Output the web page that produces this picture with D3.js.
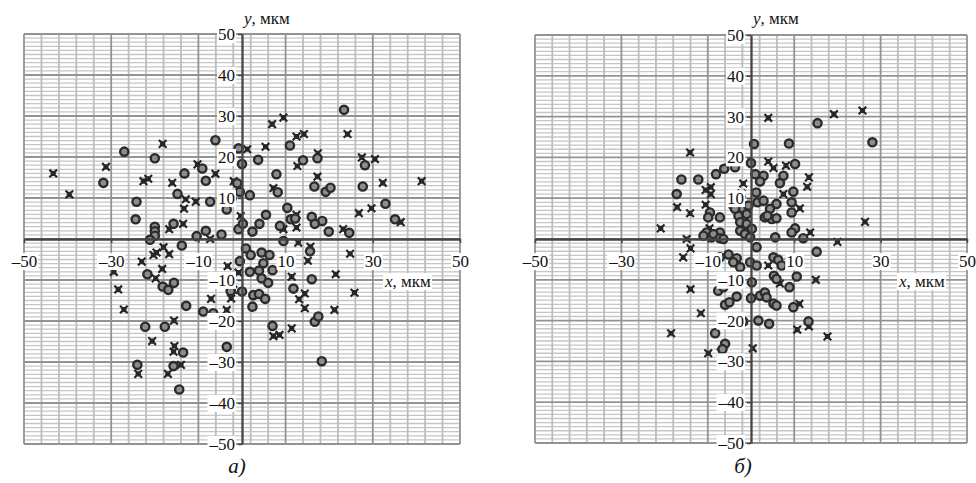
<!DOCTYPE html>
<html>
<head>
<meta charset="utf-8">
<script src="https://cdn.jsdelivr.net/npm/d3@7"></script>
<style>body{margin:0;background:#fff} text{font-family:'Liberation Serif','Times New Roman',serif}</style>
</head>
<body>
<svg id="chart" width="976" height="483"></svg>
<script>
// точки, панель а)
const aCircles = [
  [-27.0,21.3],[-31.8,13.7],[-24.2,9.1],[-24.4,4.8],[-20.0,19.7],[-13.2,16.0],[-14.8,11.0],[-9.1,17.2],
  [-8.3,14.2],[-6.1,24.1],[-7.3,9.1],[-4.5,9.3],[-3.5,7.2],[-2.4,9.9],[-0.8,22.1],[0,18.3],[-1.1,13.6],
  [-0.5,11.5],[1.8,10.7],[-20,3.0],[-20,1.9],[-20,0.8],[-21.1,-0.2],[-15.7,3.7],[-10.4,0.7],[-8.3,2.0],
  [-4.7,1.1],[-0.8,2.4],[0.2,3.7],
  [23.4,31.5],[11.0,22.8],[3.7,19.3],[14.0,19.2],[17.3,19.7],[28.2,18.0],[7.9,15.8],[8.2,11.4],[16.6,12.8],
  [19.2,11.5],[20.3,12.5],[27.7,12.8],[32.9,8.6],[35.1,4.8],[10.4,7.6],[5.5,5.9],[4.0,3.7],[2.4,1.8],
  [8.7,3.2],[11.2,4.8],[12.2,5.0],[16.0,5.4],[18.4,4.4],[16.7,3.7],[19.9,1.8],[24.6,1.5],[9.5,-0.5],
  [-21.7,-8.6],[-18.2,-11.6],[-16.9,-12.4],[-15.6,-10.7],[-13.8,-1.6],[-12.8,-16.3],[-8.9,-17.7],[-6.6,-18.1],
  [-22.2,-21.4],[-17.7,-21.4],[-13.5,-27.7],[-24.0,-30.7],[-15.7,-31.0],[-14.4,-36.7],[-3.5,-26.3],
  [-0.5,-5.4],[0,-12.8],[-2.6,-12.7],[2.4,-16.5],[0.9,-2.3],
  [16.0,-9.8],[11.8,-12.1],[15.6,-3.0],[16.7,-20.2],[17.5,-18.9],[18.3,-29.8],[7.0,-21.2],[7.0,-7.6],
  [2.0,-3.9],[4.5,-3.3],[6.3,-3.9],[4.9,-5.9],[3.9,-7.7],[1.8,-8.0],[4.5,-9.6],[6.0,-10.7],[2.6,-13.7],
  [3.9,-13.4],[5.3,-14.6]
];
const aCrosses = [
  [-43.3,16.0],[-39.6,10.9],[-31.2,17.6],[-18.2,23.2],[-22.6,14.1],[-21.5,14.7],[-16.0,13.7],[-12.9,9.7],
  [-13.3,7.4],[-13.5,3.7],[-10.6,9.1],[-10.2,18.2],[-6.1,15.9],[-16.7,2.4],[-7.3,0],[-1.9,14.1],[1.2,21.9],
  [-0.3,5.6],
  [6.9,28.0],[9.5,29.6],[12.5,25.0],[14.2,25.6],[5.4,22.5],[12.7,17.8],[17.4,20.9],[17.3,15.2],[24.2,25.6],
  [27.5,19.9],[30.5,19.5],[32.3,13.7],[41.2,14.1],[29.7,7.5],[26.8,6.3],[36.4,4.1],[7.2,12.4],[12.5,5.9],
  [12.5,2.8],[9.5,2.4],[23.2,2.4],[12.9,-0.9],[15.7,-1.9],[24.8,-3.6],
  [-29.4,-8.0],[-28.4,-12.3],[-27.1,-17.2],[-23.0,-5.5],[-20.3,-3.9],[-19.6,-3.3],[-18.0,-2.0],[-16.7,-3.7],
  [-18.3,-7.3],[-19.8,-9.6],[-15.6,-19.9],[-20.6,-24.9],[-15.5,-26.1],[-15.7,-27.5],[-14.0,-30.7],
  [-17.0,-32.9],[-23.8,-32.9],[-3.3,-6.6],[-7.1,-14.6],[-2.5,-14.5],[-3.5,-17.3],[-0.8,-8.2],[-2.0,-12.4],
  [11.4,-9.2],[15.1,-5.3],[21.5,-8.6],[25.8,-13.1],[14.4,-13.3],[13.1,-14.7],[14.4,-16.9],[21.2,-17.3],
  [11.4,-21.8],[7.2,-23.7],[8.6,-23.4]
];

// точки, панель б)
const bCircles = [
  [-16.1,14.6],[-17.2,11.0],[-12.2,14.6],[-8.1,15.9],[-6.2,17.2],[-3.7,17.6],[-7.2,5.3],[-9.5,6.5],
  [-9.9,5.3],[-10.3,1.6],[-9.1,0.4],[-7.2,1.6],[-4.1,8.2],[-2.9,5.7],[-2.5,4.1],[-2.5,2.0],[-8.7,1.2],
  [-7.2,0.2],[-4.1,9.4],[-2.9,8.6],[-3.7,7.4],[-1.0,3.7],[0.2,2.5],[-1.4,1.2],[-1.8,7.4],[-1.0,6.1],
  [-0.6,8.2],[-6.4,0],[-0.2,0.4],[-11.0,0.8],
  [0.7,23.3],[0,18.6],[8.8,23.4],[15.4,28.4],[28.1,23.7],[10.2,18.4],[1.0,15.9],[2.9,15.5],[2.1,14.1],
  [7.5,15.5],[6.7,13.7],[9.8,11.6],[9.4,9.0],[9.4,6.5],[5.9,8.6],[3.2,5.3],[4.8,4.9],[5.9,5.1],[10.2,2.6],
  [9.4,1.6],[12.1,0.2],[5.6,0.4],[1.2,11.4],[1.5,9.0],[2.9,9.4],[4.4,7.4],[3.8,5.7],
  [-7.2,-4.5],[-5.2,-3.8],[-3.3,-4.7],[-4.1,-5.7],[-2.5,-6.9],[-0.2,-5.7],[1.3,-6.5],[0.2,-10.6],[5.2,-4.5],
  [6.3,-5.1],[7.1,-6.5],[5.3,-9.0],[5.9,-9.8],[10.6,-9.2],[8.9,-11.8],[-7.6,-12.7],[-6.4,-11.8],
  [-3.3,-14.1],[-6.0,-16.1],[-5.0,-15.5],[0,-14.5],[2.1,-13.9],[3.2,-13.1],[3.6,-14.3],[5.2,-15.8],
  [5.9,-16.3],[9.8,-16.7],[-1.8,-20.2],[1.7,-20.0],[4.2,-20.8],[-8.3,-23.1],[-6.0,-25.7],[-6.6,-27.0],
  [13.3,-20.2],[9.0,-4.9],[15.2,-3.1],[1.3,-2.0]
];
const bCrosses = [
  [-14.1,21.2],[-17.1,7.8],[-14.1,6.3],[-20.9,2.6],[-14.9,0],[-14.0,-2.3],[-10.5,12.0],[-9.3,11.0],
  [-9.3,12.7],[-10.5,8.4],[-9.6,2.6],[4.0,29.7],[19.2,30.6],[25.8,31.5],[26.4,4.2],[20.0,-0.7],[4.0,19.0],
  [5.2,17.4],[8.1,18.0],[13.4,15.1],[13.0,12.8],[11.3,7.5],[13.7,1.6],[-1.8,13.6],[-2.2,11.2],[7.5,11.0],
  [-15.7,-4.5],[-14.0,-12.3],[-11.6,-18.2],[-18.5,-23.1],[-9.9,-28.0],[-7.0,-27.8],[0.4,-26.8],[4.0,-6.5],
  [11.2,-15.9],[10.7,-22.2],[15.0,-10.0],[6.7,-10.9],[13.4,-21.4],[17.7,-23.9]
];

const xTicks = [-50, -30, -10, 10, 30, 50];
const yTicks = [50, 40, 30, 20, 10, -10, -20, -30, -40, -50];
const axisUnit = ", мкм";

const svg = d3.select("#chart");
const serif = "'Liberation Serif', 'Times New Roman', serif";
const fmt = d => d < 0 ? "\u2013" + Math.abs(d) : String(d);

function withBackground(sel) {
  sel.each(function() {
    const b = this.getBBox();
    d3.select(this.parentNode).insert("rect", () => this)
      .attr("x", b.x - 1).attr("y", b.y + 1).attr("width", b.width + 2).attr("height", b.height - 2)
      .attr("fill", "#fff");
  });
}

function panel(o) {
  const x = d3.scaleLinear().domain([-50, 50]).range([o.left, o.right]);
  const y = d3.scaleLinear().domain([-50, 50]).range([o.bottom, o.top]);
  const g = svg.append("g");

  // сетка
  const hMinor = d3.range(-50, 51, 1).filter(v => v % 10 !== 0);
  const vMinor = d3.range(-50, 51, 4).filter(v => (v + 50) % 20 !== 0);
  g.selectAll(".hm").data(hMinor).join("line")
    .attr("x1", x(-50)).attr("x2", x(50)).attr("y1", d => y(d)).attr("y2", d => y(d))
    .attr("stroke", "#c6c6c6").attr("stroke-width", 1.3);
  g.selectAll(".vm").data(vMinor).join("line")
    .attr("y1", y(-50)).attr("y2", y(50)).attr("x1", d => x(d)).attr("x2", d => x(d))
    .attr("stroke", "#bdbdbd").attr("stroke-width", 1.8);
  g.selectAll(".hM").data(d3.range(-50, 51, 10)).join("line")
    .attr("x1", x(-50)).attr("x2", x(50)).attr("y1", d => y(d)).attr("y2", d => y(d))
    .attr("stroke", "#939393").attr("stroke-width", 1.8);
  g.selectAll(".vM").data(xTicks).join("line")
    .attr("y1", y(-50)).attr("y2", y(50)).attr("x1", d => x(d)).attr("x2", d => x(d))
    .attr("stroke", "#939393").attr("stroke-width", 1.8);

  // точки
  g.selectAll(".cr").data(o.crosses).join("path")
    .attr("transform", d => `translate(${x(d[0])},${y(d[1])})`)
    .attr("d", "M-3.8,-3.8L3.8,3.8M-3.8,3.8L3.8,-3.8M-1.5,-1.5h3v3h-3z")
    .attr("stroke", "#262626").attr("stroke-width", 2.2).attr("fill", "#262626");
  g.selectAll(".ci").data(o.circles).join("circle")
    .attr("cx", d => x(d[0])).attr("cy", d => y(d[1])).attr("r", 4.1)
    .attr("fill", "#8c8c8c").attr("stroke", "#2b2b2b").attr("stroke-width", 2.4);

  // оси
  const ax = g.append("g").attr("transform", `translate(0,${y(0)})`)
    .call(d3.axisBottom(x).tickValues(xTicks).tickSizeInner(4).tickSizeOuter(0).tickPadding(12).tickFormat(fmt));
  const ay = g.append("g").attr("transform", `translate(${x(0)},0)`)
    .call(d3.axisLeft(y).tickValues(yTicks).tickSizeInner(4).tickSizeOuter(0).tickPadding(3).tickFormat(fmt));
  [ax, ay].forEach(a => {
    a.attr("font-family", null).attr("font-size", null);
    a.select(".domain").attr("stroke", "#444").attr("stroke-width", 2.3);
    a.selectAll(".tick line").attr("stroke", "#444").attr("stroke-width", 1.5);
    a.selectAll(".tick text").style("font-family", serif).style("font-size", "17px").attr("fill", "#111");
    withBackground(a.selectAll(".tick text"));
  });

  // подписи осей
  const yt = svg.append("text").attr("x", x(0) + 2).attr("y", 24)
    .style("font-family", serif).style("font-size", "17px").attr("fill", "#111");
  yt.append("tspan").attr("font-style", "italic").text("y");
  yt.append("tspan").text(axisUnit);

  const xt = svg.append("text").attr("x", o.xTitleX).attr("y", 287)
    .style("font-family", serif).style("font-size", "17px").attr("fill", "#111");
  xt.append("tspan").attr("font-style", "italic").text("x");
  xt.append("tspan").text(axisUnit);
  withBackground(xt);

  svg.append("text").attr("x", o.labelX).attr("y", 473).attr("text-anchor", "middle")
    .style("font-family", serif).style("font-size", "21px").attr("font-style", "italic").attr("fill", "#111")
    .text(o.label);
}

panel({left: 24, right: 460, top: 34, bottom: 444, circles: aCircles, crosses: aCrosses,
       xTitleX: 385, labelX: 237, label: "а)"});
panel({left: 535, right: 967, top: 35, bottom: 443, circles: bCircles, crosses: bCrosses,
       xTitleX: 899, labelX: 743, label: "б)"});
</script>
</body>
</html>
